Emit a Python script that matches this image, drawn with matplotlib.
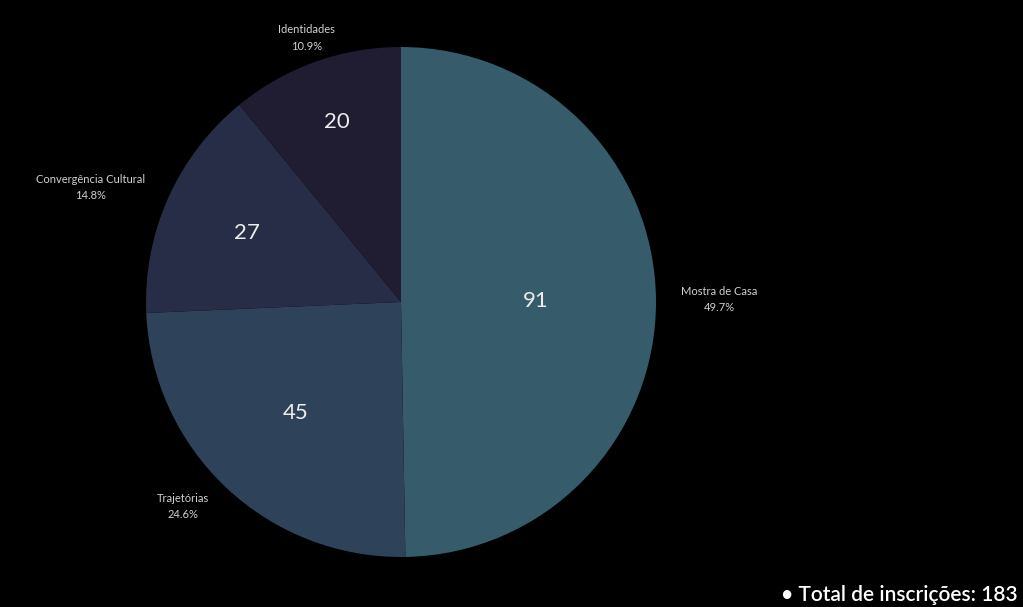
import numpy as np
import matplotlib
matplotlib.use("Agg")
import matplotlib.pyplot as plt

categories = ["Mostra de Casa", "Trajetórias", "Convergência Cultural", "Identidades"]
counts = [91, 45, 27, 20]
colors = ["#365b6b", "#2e4259", "#272d46", "#201c31"]
# radial position of the count inside each wedge
inner_dist = [0.53, 0.6, 0.66, 0.75]

plt.rcParams["font.family"] = ["Lato", "DejaVu Sans"]

fig = plt.figure(figsize=(10.23, 6.07), dpi=100, facecolor="black")
ax = fig.add_axes([146 / 1023, 50 / 607, 510 / 1023, 510 / 607])
ax.set_facecolor("black")

wedges, _ = ax.pie(counts, colors=colors, startangle=90, counterclock=False,
                   wedgeprops=dict(linewidth=0))
ax.set_xlim(-1, 1)
ax.set_ylim(-1, 1)
ax.set_aspect("equal")
ax.axis("off")

total = sum(counts)
for w, name, n, d in zip(wedges, categories, counts, inner_dist):
    ang = np.deg2rad((w.theta1 + w.theta2) / 2)
    c, s = np.cos(ang), np.sin(ang)
    ax.text(d * c, d * s, str(n), ha="center", va="center",
            fontsize=16, color="#ececec")
    if c > 0.5:
        ha = "left"
    elif c < -0.5:
        ha = "right"
    else:
        ha = "center"
    ax.text(1.1 * c, 1.1 * s, f"{name}\n{100 * n / total:.1f}%", ha=ha, va="center",
            multialignment="center", fontsize=8, color="#d0d0d0",
            linespacing=1.6, clip_on=False)

fig.text(0.995, 0.003, f"• Total de inscrições: {total}", ha="right", va="bottom",
         fontsize=15, color="white", fontweight="semibold")

fig.savefig("out.png", dpi=100, facecolor="black")
